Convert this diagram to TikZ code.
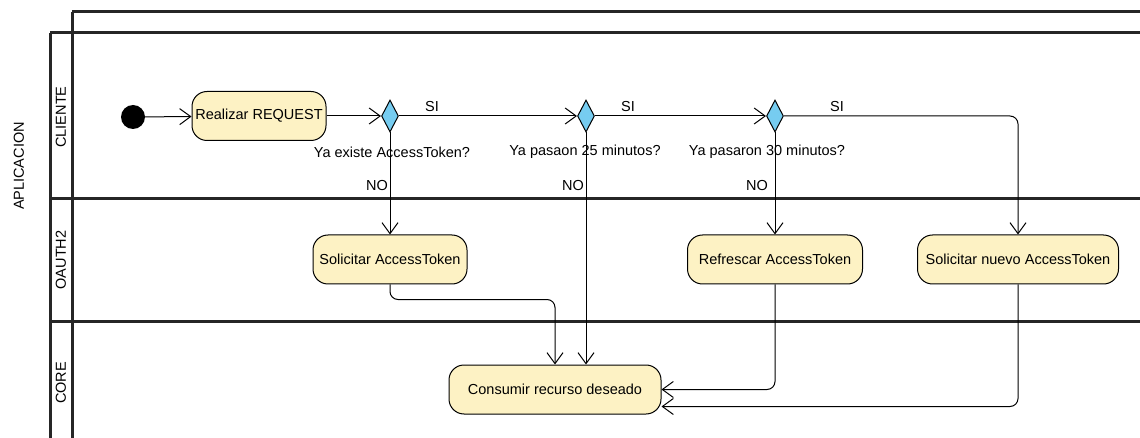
\documentclass[tikz,border=0pt]{standalone}
\usepackage{fontspec}
\setmainfont{Liberation Sans}
\usetikzlibrary{arrows.meta,shapes.geometric}
\definecolor{actfill}{RGB}{253,242,196}
\definecolor{decfill}{RGB}{118,204,240}

\begin{document}
\begin{tikzpicture}[x=1pt,y=-1pt,
 lane/.style={line width=3pt,black!85},
 act/.style={draw,line width=1pt,fill=actfill,rounded corners=15pt,minimum height=49pt,inner sep=0pt,font=\fontsize{14.5}{17}\selectfont},
 dec/.style={draw,line width=1pt,fill=decfill,diamond,aspect=0.53,minimum width=17pt,minimum height=32pt,inner sep=0pt},
 lbl/.style={font=\fontsize{14.5}{17}\selectfont,inner sep=0pt},
 flow/.style={-{Straight Barb[length=11pt,width=16pt]},line width=1pt,rounded corners=8pt}]
 \useasboundingbox (0,0) rectangle (1140,438);
 % calles
 \draw[lane](72,12)--(1140,12);
 \draw[lane](72,12)--(72,438);
 \draw[lane](50,33)--(1140,33);
 \draw[lane](50,33)--(50,438);
 \draw[lane](50,199)--(1140,199);
 \draw[lane](50,321)--(1140,321);
 \node[lbl,rotate=90] (aplicacion) at (19,166) {APLICACION};
 \node[lbl,rotate=90] (cliente) at (61,117) {CLIENTE};
 \node[lbl,rotate=90] (oauth) at (61,260) {OAUTH2};
 \node[lbl,rotate=90] (core) at (61,383) {CORE};
 % acciones
 \node[circle,fill=black,minimum size=24pt,inner sep=0pt] (inicio) at (133,117) {};
 \node[act,minimum width=134pt] (request) at (259,116) {Realizar REQUEST};
 \node[dec] (token) at (390,116) {};
 \node[dec] (min25) at (586,116) {};
 \node[dec] (min30) at (775,116) {};
 \node[act,minimum width=154pt] (solicitar) at (390,259.5) {Solicitar AccessToken};
 \node[act,minimum width=175pt] (refrescar) at (775,259.5) {Refrescar AccessToken};
 \node[act,minimum width=201pt] (nuevo) at (1018,259.5) {Solicitar nuevo AccessToken};
 \node[act,minimum width=212pt] (consumir) at (555,389.5) {Consumir recurso deseado};
 % etiquetas
 \node[lbl] (si1) at (432,107) {SI};
 \node[lbl] (si2) at (628,107) {SI};
 \node[lbl] (si3) at (837,107) {SI};
 \node[lbl] (q1) at (392,152) {Ya existe AccessToken?};
 \node[lbl] (q2) at (585,152) {Ya pasaon 25 minutos?};
 \node[lbl] (q3) at (767,152) {Ya pasaron 30 minutos?};
 \node[lbl,anchor=east] (no1) at (388,186) {NO};
 \node[lbl,anchor=east] (no2) at (584,186) {NO};
 \node[lbl,anchor=east] (no3) at (768,186) {NO};
 % flujo
 \draw[flow](inicio)--(request);
 \draw[flow](request)--(token);
 \draw[flow](token)--(min25);
 \draw[flow](min25)--(min30);
 \draw[flow](min30)-|(nuevo);
 \draw[flow](token)--(solicitar);
 \draw[flow](min25)--(min25|-consumir.north);
 \draw[flow](min30)--(refrescar);
 \draw[flow](solicitar)--++(0,40)-|(consumir);
 \draw[flow](refrescar)|-(consumir.east);
 \draw[flow](nuevo)|-([yshift=-17pt]consumir.east);
\end{tikzpicture}
\end{document}
